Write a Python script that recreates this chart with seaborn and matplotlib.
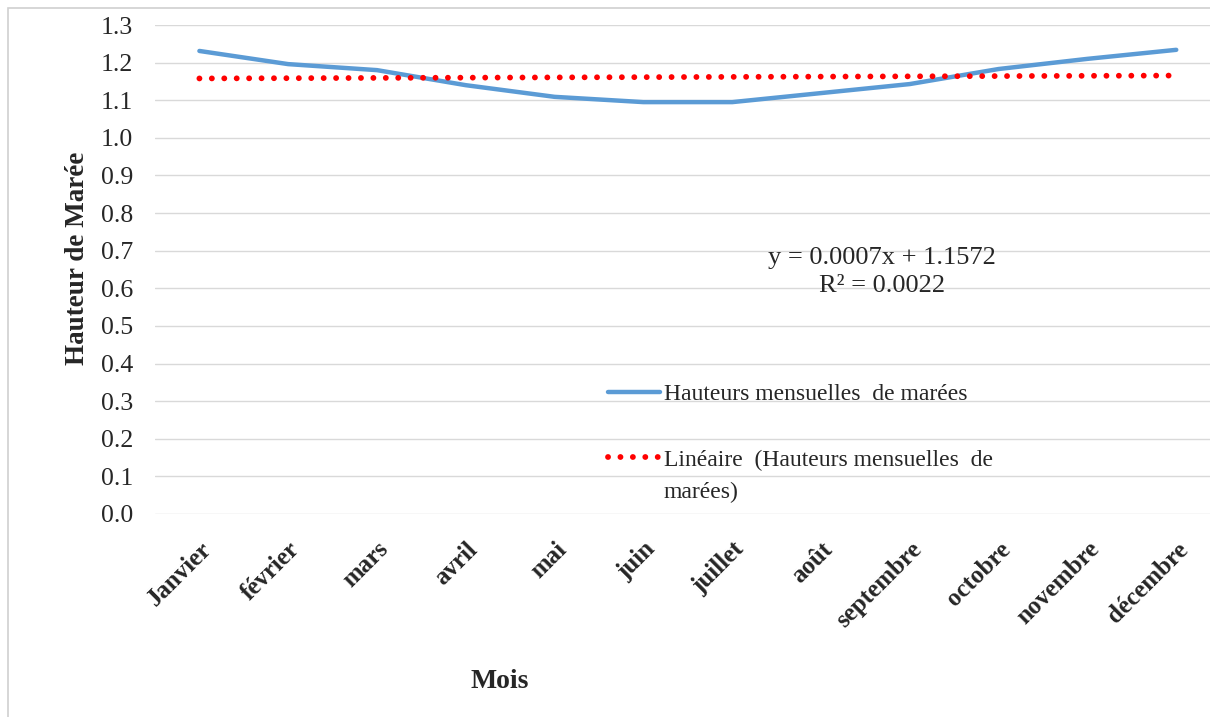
import numpy as np
import pandas as pd
import matplotlib
matplotlib.use("Agg")
import matplotlib.pyplot as plt
import seaborn as sns
from matplotlib.patches import Rectangle

# Monthly tide heights
months = ["Janvier", "février", "mars", "avril", "mai", "juin", "juillet",
          "août", "septembre", "octobre", "novembre", "décembre"]
heights = [1.231, 1.196, 1.180, 1.140, 1.109, 1.095, 1.095,
           1.119, 1.143, 1.183, 1.210, 1.234]

# Linear trend as reported on the chart
slope = 0.0007
intercept = 1.1572
r2 = 0.0022

y_ticks = [round(0.1 * i, 1) for i in range(14)]

sns.set_theme(style="white")
plt.rcParams["font.family"] = ["Liberation Serif", "DejaVu Serif"]

W, H = 1210, 717
fig = plt.figure(figsize=(W / 100, H / 100), dpi=100)
ax = fig.add_axes([155 / W, 1 - 514 / H, 1 - 155 / W, (514 - 25) / H])

idx = np.arange(len(months))
df = pd.DataFrame({"x": idx, "h": heights,
                   "trend": slope * (idx + 1) + intercept})

sns.lineplot(data=df, x="x", y="h", ax=ax, color="#5B9BD5", linewidth=3.2,
             solid_capstyle="round", label="Hauteurs mensuelles  de marées",
             zorder=3)
sns.lineplot(data=df, x="x", y="trend", ax=ax, color="#FF0000", linewidth=4.2,
             linestyle=(0, (0.01, 2.12)), dash_capstyle="round",
             label="Linéaire  (Hauteurs mensuelles  de", zorder=4)

ax.set_xlim(-0.5, 11.38)
ax.set_ylim(0, 1.3)
ax.set_yticks(y_ticks)
ax.set_yticklabels([f"{v:.1f}" for v in y_ticks], fontsize=18.5)
ax.set_xticks(idx)
ax.set_xticklabels(months, rotation=45, ha="right", rotation_mode="anchor",
                   fontsize=18, fontweight="bold")
ax.tick_params(axis="x", length=0, pad=17)
ax.tick_params(axis="y", length=0, pad=16)
ax.grid(axis="y", color="#d9d9d9", linewidth=1.0)
for s in ax.spines.values():
    s.set_visible(False)
ax.set_xlabel("")
ax.set_ylabel("")

fig.text(78 / W, 1 - 258 / H, "Hauteur de Marée", rotation=90,
         ha="center", va="center", fontsize=19.5, fontweight="bold")
fig.text(500 / W, 1 - 681 / H, "Mois", ha="center", va="center",
         fontsize=20, fontweight="bold")

fig.text(882 / W, 1 - 272 / H,
         f"y = {slope:.4f}x + {intercept:.4f}\nR² = {r2:.4f}",
         ha="center", va="center", fontsize=19, linespacing=1.38)

leg = ax.legend(loc="center left", bbox_to_anchor=(608 / W, 1 - 427 / H),
                bbox_transform=fig.transFigure, frameon=False, fontsize=17,
                handlelength=2.2, handletextpad=0.17, labelspacing=1.87,
                borderpad=0, borderaxespad=0)

# second line of the trend entry, aligned under its legend text
fig.canvas.draw()
bb = leg.get_texts()[1].get_window_extent()
fig.text(bb.x0 / W, (bb.y0 + bb.y1) / 2 / H - 32 / H, "marées)",
         ha="left", va="center", fontsize=17)

fig.patches.append(Rectangle((8 / W, -0.1), 1.2, 1 - 8 / H + 0.1,
                             transform=fig.transFigure, fill=False,
                             edgecolor="#d0d0d0", linewidth=1.2))

fig.savefig("out.png", dpi=100)
